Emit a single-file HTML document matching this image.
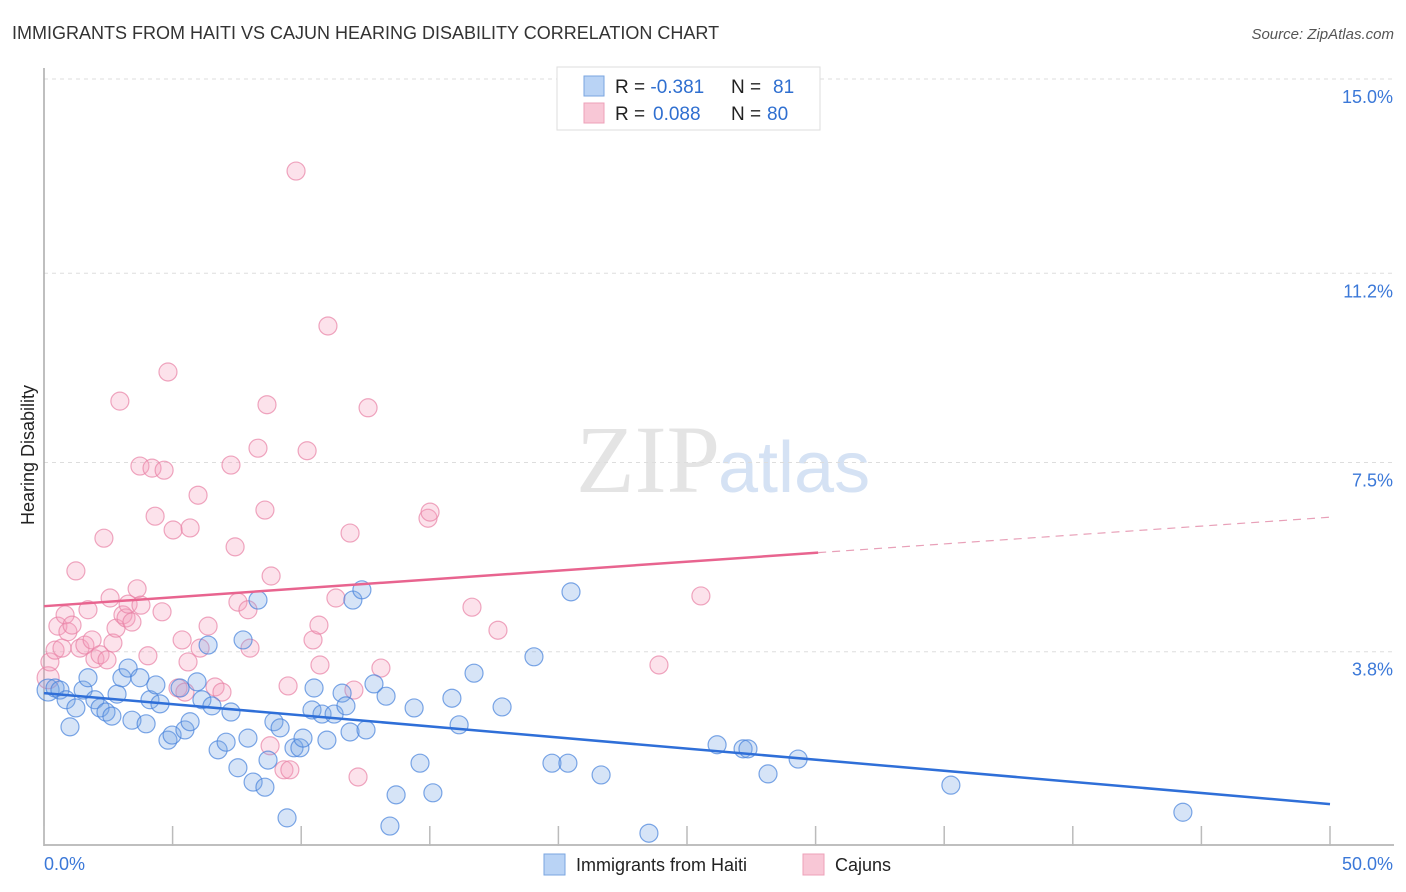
<!DOCTYPE html>
<html><head><meta charset="utf-8"><style>
body{margin:0;background:#fff;font-family:"Liberation Sans",sans-serif;}
svg{display:block}
</style></head><body>
<svg width="1406" height="892" xmlns="http://www.w3.org/2000/svg">
<text x="12" y="39" font-size="18" fill="#333">IMMIGRANTS FROM HAITI VS CAJUN HEARING DISABILITY CORRELATION CHART</text>
<text x="1394" y="39" font-size="15" fill="#555" font-style="italic" text-anchor="end">Source: ZipAtlas.com</text>
<text x="720" y="492" font-size="96" fill="#e4e4e4" text-anchor="end" font-family="Liberation Serif,serif">ZIP</text>
<text x="718" y="492" font-size="72" fill="#d5e2f4">atlas</text>
<g id="grid"></g>
<g id="axes"></g>
<g id="pts"></g>
<g id="trend"></g>
<text transform="translate(34,455) rotate(-90)" font-size="18" fill="#222" text-anchor="middle">Hearing Disability</text>
<g>
<rect x="557" y="67" width="263" height="63" fill="#fff" stroke="#ddd"/>
<rect x="584" y="76" width="20" height="20" fill="#b9d3f5" stroke="#7aa6e0"/>
<rect x="584" y="103" width="20" height="20" fill="#f8c7d6" stroke="#eea0b8"/>
<text x="615" y="93" font-size="19" fill="#222">R = <tspan fill="#2f6fd0">-0.381</tspan><tspan x="731">N = </tspan><tspan x="773" fill="#2f6fd0">81</tspan></text>
<text x="615" y="120" font-size="19" fill="#222">R = <tspan x="653" fill="#2f6fd0">0.088</tspan><tspan x="731">N = </tspan><tspan x="767" fill="#2f6fd0">80</tspan></text>
</g>
<g>
<rect x="544" y="854" width="21" height="21" fill="#b9d3f5" stroke="#7aa6e0"/>
<text x="576" y="871" font-size="18" fill="#222">Immigrants from Haiti</text>
<rect x="803" y="854" width="21" height="21" fill="#f8c7d6" stroke="#eea0b8"/>
<text x="835" y="871" font-size="18" fill="#222">Cajuns</text>
</g>
</svg>
<script>
const blueX=[0.16,0.43,0.62,0.86,1.01,1.24,1.52,1.71,1.98,2.18,2.41,2.64,2.84,3.03,3.27,3.42,3.73,3.97,4.12,4.35,4.51,4.82,4.98,5.29,5.48,5.68,5.95,6.14,6.38,6.53,6.77,7.08,7.27,7.54,7.74,7.93,8.13,8.32,8.59,8.71,8.94,9.18,9.45,9.72,9.95,10.07,10.42,10.50,10.81,11.00,11.28,11.59,11.74,11.90,12.01,12.36,12.52,12.83,13.30,13.69,14.39,14.62,15.12,15.86,16.14,16.72,17.81,19.05,19.75,20.37,20.49,21.66,23.52,26.17,27.18,27.37,28.15,29.32,35.26,44.28,13.45];
const blueY=[3.05,3.09,3.05,2.86,2.33,2.70,3.05,3.29,2.86,2.70,2.62,2.54,2.97,3.29,3.48,2.46,3.29,2.39,2.86,3.15,2.78,2.07,2.17,3.09,2.27,2.43,3.21,2.86,3.93,2.74,1.88,2.03,2.62,1.53,4.03,2.11,1.25,4.81,1.15,1.68,2.43,2.31,0.55,1.92,1.92,2.11,2.66,3.09,2.58,2.07,2.58,2.99,2.74,2.23,4.81,5.01,2.27,3.17,2.93,1.00,2.70,1.62,1.04,2.89,2.37,3.38,2.72,3.70,1.62,1.62,4.97,1.39,0.25,1.98,1.90,1.90,1.41,1.70,1.19,0.66,0.39];
const pinkX=[0.16,0.23,0.43,0.54,0.70,0.82,0.93,1.09,1.24,1.40,1.59,1.71,1.87,1.98,2.18,2.33,2.45,2.57,2.68,2.80,2.95,3.07,3.19,3.27,3.42,3.62,3.73,3.77,4.04,4.20,4.32,4.59,4.67,4.82,5.02,5.21,5.37,5.48,5.60,5.68,5.99,6.07,6.38,6.65,6.92,7.27,7.43,7.54,7.93,8.01,8.32,8.59,8.67,8.83,9.49,9.33,9.56,9.80,10.23,10.46,10.69,10.73,11.04,11.35,11.90,12.05,12.21,12.60,13.10,14.93,15.01,16.64,17.65,23.91,25.54,8.79];
const pinkY=[3.29,3.60,3.83,4.30,3.87,4.52,4.19,4.32,5.38,3.87,3.93,4.62,4.03,3.66,3.74,6.02,3.64,4.85,3.97,4.26,8.70,4.52,4.46,4.73,4.38,5.03,7.43,4.71,3.72,7.39,6.45,4.58,7.35,9.27,6.18,3.09,4.03,3.01,3.60,6.22,6.86,3.87,4.30,3.11,3.01,7.45,5.85,4.77,4.62,3.87,7.78,6.57,8.63,5.28,3.13,1.49,1.49,13.20,7.73,4.03,4.32,3.54,10.17,4.85,6.12,3.05,1.35,8.57,3.48,6.41,6.53,4.67,4.22,3.54,4.89,1.96];
const yTicks=[3.8,7.5,11.2,15.0];
const yTickLabels=["3.8%","7.5%","11.2%","15.0%"];
const xTicks=[0,5,10,15,20,25,30,35,40,45,50];
const blueTrend=[2.99,0.82];
const pinkTrend=[4.69,6.43];
const pinkSolidEnd=30.1;

const NS="http://www.w3.org/2000/svg";
const X0=44,X1=1330,YB=846,YT=79;
const sx=v=>X0+(X1-X0)*v/50;
const sy=v=>YB-(YB-YT)*v/15;
function mk(tag,attrs,parent){const e=document.createElementNS(NS,tag);for(const k in attrs)e.setAttribute(k,attrs[k]);parent.appendChild(e);return e;}
const grid=document.getElementById('grid'),axes=document.getElementById('axes'),pts=document.getElementById('pts'),trend=document.getElementById('trend');
yTicks.forEach((t,i)=>{
  const l=mk('line',{x1:X0,x2:1394,y1:sy(t),y2:sy(t),stroke:'#ddd','stroke-dasharray':'4,4'},grid);
  
  
  const tx=mk('text',{x:1393,y:sy(t)+24,'font-size':18,fill:'#3b78d8','text-anchor':'end'},grid);
  tx.textContent=yTickLabels[i];
  
  
});
const ax=mk('line',{x1:X0,x2:X0,y1:68,y2:YB,stroke:'#aaa','stroke-width':1.5},axes);


const bx=mk('line',{x1:X0,x2:1394,y1:YB-1,y2:YB-1,stroke:'#aaa','stroke-width':1.5},axes);


xTicks.forEach(t=>{
  const l=mk('line',{x1:sx(t),x2:sx(t),y1:826,y2:YB,stroke:'#bbb','stroke-width':1.5},axes);
  
  
});
const xl0=mk('text',{x:44,y:870,'font-size':18,fill:'#3b78d8'},axes);xl0.textContent='0.0%';


const xl1=mk('text',{x:1393,y:870,'font-size':18,fill:'#3b78d8','text-anchor':'end'},axes);xl1.textContent='50.0%';


pinkX.forEach((x,i)=>{
  const c=mk('circle',{cx:sx(x),cy:sy(pinkY[i]),r:i===0?11:9,fill:'rgba(244,160,188,0.3)',stroke:'rgba(232,130,165,0.7)','stroke-width':1.2},pts);
  
  
});
blueX.forEach((x,i)=>{
  const c=mk('circle',{cx:sx(x),cy:sy(blueY[i]),r:i===0?11:9,fill:'rgba(120,165,230,0.3)',stroke:'rgba(70,130,220,0.7)','stroke-width':1.2},pts);
  
  
});
const bt=mk('line',{x1:sx(0),y1:sy(blueTrend[0]),x2:sx(50),y2:sy(blueTrend[1]),stroke:'#2f6fd8','stroke-width':2.5},trend);


const pm=pinkTrend[0]+(pinkTrend[1]-pinkTrend[0])*pinkSolidEnd/50;
const pt=mk('line',{x1:sx(0),y1:sy(pinkTrend[0]),x2:sx(pinkSolidEnd),y2:sy(pm),stroke:'#e8648f','stroke-width':2.5},trend);


const pd=mk('line',{x1:sx(pinkSolidEnd),y1:sy(pm),x2:sx(50),y2:sy(pinkTrend[1]),stroke:'#e8a0b8','stroke-width':1.2,'stroke-dasharray':'8,6'},trend);


</script>
</body></html>
